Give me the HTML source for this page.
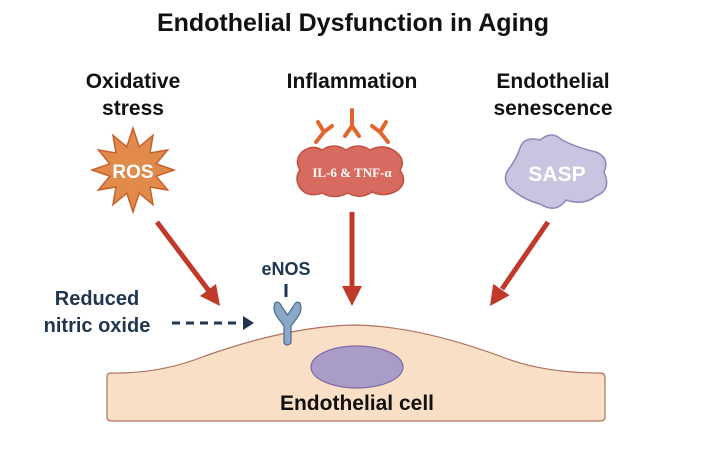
<!DOCTYPE html>
<html><head><meta charset="utf-8"><style>
html,body{margin:0;padding:0;background:#fff;}
svg{display:block;font-family:"Liberation Sans",sans-serif;}
</style></head><body>
<svg width="706" height="470" viewBox="0 0 706 470" xmlns="http://www.w3.org/2000/svg">
<text x="353" y="31" text-anchor="middle" font-size="25" font-weight="bold" fill="#111">Endothelial Dysfunction in Aging</text>
<g font-size="21" font-weight="bold" fill="#111" text-anchor="middle">
<text x="133" y="88">Oxidative</text><text x="133" y="115">stress</text>
<text x="352" y="88">Inflammation</text>
<text x="553" y="88">Endothelial</text><text x="553" y="115">senescence</text>
</g>
<polygon points="133,128 139.2,146.8 153,135.4 150,153 167.6,150 156.2,163.8 174,170 156.2,176.2 167.6,190 150,187 153,204.6 139.2,193.2 133,212 126.8,193.2 113,204.6 116,187 98.4,190 109.8,176.2 92,170 109.8,163.8 98.4,150 116,153 113,135.4 126.8,146.8" fill="#e08a4c" stroke="#c8602c" stroke-width="1.5"/>
<text x="133" y="178" text-anchor="middle" font-size="19" font-weight="bold" fill="#fff">ROS</text>
<g stroke="#e0662e" stroke-width="4" fill="none" stroke-linecap="round">
<path d="M352,110 V126 M352,126 L345,136 M352,126 L359,136"/>
<path d="M316,142 L324,132 M324,132 L318,122 M324,132 L332,126"/>
<path d="M388,142 L380,132 M380,132 L386,122 M380,132 L372,126"/>
</g>
<path d="M302,152 Q312,144 322,150 Q334,142 346,150 Q358,142 370,150 Q384,143 396,152 Q406,160 400,170 Q408,182 398,190 Q386,198 372,192 Q360,200 348,193 Q334,200 322,193 Q308,198 300,188 Q294,178 300,170 Q294,160 302,152 Z" fill="#d86b60" stroke="#c0503f" stroke-width="1.5"/>
<text x="352" y="177" text-anchor="middle" font-size="13" font-weight="bold" font-family="Liberation Serif,serif" fill="#fff">IL-6 &amp; TNF-α</text>
<path d="M520,148 Q524,136 540,140 Q552,130 562,140 Q578,148 596,152 Q610,158 604,172 Q612,190 596,196 Q584,206 566,200 Q556,214 540,204 Q524,200 510,188 Q502,180 508,170 Q516,160 520,148 Z" fill="#c9c4e0" stroke="#8f86b8" stroke-width="1.5"/>
<text x="557" y="181" text-anchor="middle" font-size="21" font-weight="bold" fill="#fff">SASP</text>
<g stroke="#c0392b" stroke-width="5">
<line x1="157" y1="222" x2="209" y2="291"/>
<line x1="352" y1="212" x2="352" y2="288"/>
<line x1="548" y1="222" x2="502" y2="289"/>
</g>
<g fill="#c0392b">
<polygon points="220,306 200,296 216,284"/>
<polygon points="352,306 342,286 362,286"/>
<polygon points="490,306 509.6,295.3 493.2,283.9"/>
</g>
<path d="M111,373 Q160,374 205,356 Q290,326 355,325 Q420,326 505,358 Q545,373 600,373 Q605,373 605,378 L605,417 Q605,421 600,421 L112,421 Q107,421 107,417 L107,377 Q107,373 111,373 Z" fill="#f9dfc5" stroke="#b07060" stroke-width="1.2"/>
<ellipse cx="357" cy="367" rx="46" ry="21" fill="#a99cc7" stroke="#7e6aa8" stroke-width="1.2"/>
<text x="357" y="410" text-anchor="middle" font-size="21" font-weight="bold" fill="#111">Endothelial cell</text>
<text x="286" y="275" text-anchor="middle" font-size="18" font-weight="bold" fill="#1f3550">eNOS</text>
<line x1="286" y1="284" x2="286" y2="297" stroke="#1f3550" stroke-width="3"/>
<path d="M275,303 Q272,310 278,318 L284,326 L284,343 Q287,347 291,343 L291,326 L297,318 Q303,310 300,303 Q296,300 293,307 L287.5,315 L282,307 Q279,300 275,303 Z" fill="#89a9c8" stroke="#4e6a8a" stroke-width="1.2"/>
<g font-size="20" font-weight="bold" fill="#1f3550" text-anchor="middle">
<text x="97" y="305">Reduced</text><text x="97" y="332">nitric oxide</text>
</g>
<line x1="172" y1="323" x2="240" y2="323" stroke="#1f3550" stroke-width="3" stroke-dasharray="8,6"/>
<path d="M243,316 L254,323 L243,330 Z" fill="#1f3550"/>
</svg>
</body></html>
